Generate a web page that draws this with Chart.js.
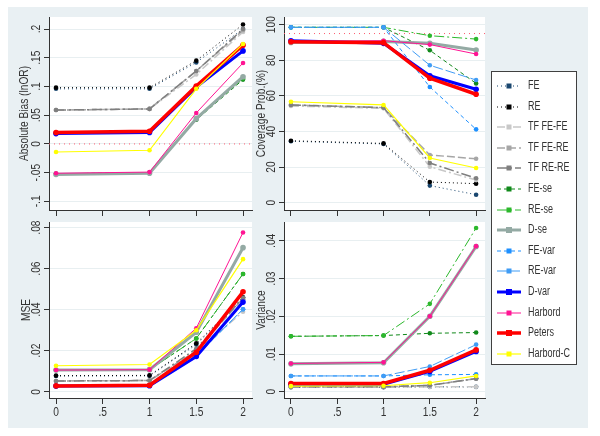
<!DOCTYPE html>
<html>
<head>
<meta charset="utf-8">
<script src="https://cdn.jsdelivr.net/npm/chart.js@4.4.1/dist/chart.umd.min.js"></script>
<style>
  body { margin: 0; background: #fff; width: 600px; height: 436px; position: relative; overflow: hidden; }
  #bg { position: absolute; left: 8px; top: 7px; width: 580px; height: 421px; background: #e9f0f3; }
  canvas { position: absolute; }
  #legend { position: absolute; left: 491px; top: 71px; width: 84px; height: 292px; background: #fff;
            border: 1px solid #404040; font-family: 'Liberation Sans', Arial, sans-serif;
            font-size: 12px; color: #333; }
  .item { position: absolute; left: 0; height: 14px; }
  .item svg { position: absolute; left: 5px; top: 0; }
  .item span { position: absolute; left: 36px; top: -1px; white-space: nowrap;
               transform: scaleX(0.75); transform-origin: 0 0; }
</style>
</head>
<body>
<div id="bg"></div>
<canvas id="tl" width="252" height="211" style="left:8px;top:7px"></canvas>
<canvas id="tr" width="236" height="211" style="left:254px;top:7px"></canvas>
<canvas id="bl" width="252" height="210" style="left:8px;top:218px"></canvas>
<canvas id="br" width="236" height="210" style="left:254px;top:218px"></canvas>
<div id="legend"></div>
<script>
// x positions and tick labels
const xVals = [0, 1, 1.5, 2];
const xTicks = [0, 0.5, 1, 1.5, 2];
const xLabels = ['0', '.5', '1', '1.5', '2'];

const seriesNames = ['FE', 'RE', 'TF FE-FE', 'TF FE-RE', 'TF RE-RE', 'FE-se', 'RE-se', 'D-se',
                     'FE-var', 'RE-var', 'D-var', 'Harbord', 'Peters', 'Harbord-C'];

// one row per series, same order as seriesNames
const bias = [
  [0.096, 0.096, 0.142, 0.200],
  [0.098, 0.098, 0.145, 0.208],
  [0.059, 0.061, 0.121, 0.195],
  [0.059, 0.061, 0.127, 0.198],
  [0.059, 0.061, 0.127, 0.200],
  [-0.052, -0.050, 0.042, 0.112],
  [-0.052, -0.050, 0.044, 0.114],
  [-0.053, -0.051, 0.044, 0.117],
  [0.018, 0.020, 0.099, 0.162],
  [0.018, 0.020, 0.099, 0.162],
  [0.018, 0.020, 0.099, 0.162],
  [-0.051, -0.049, 0.054, 0.141],
  [0.020, 0.022, 0.101, 0.172],
  [-0.014, -0.011, 0.096, 0.174]
];
const coverage = [
  [34.5, 33.0, 9.6, 4.5],
  [34.8, 33.3, 11.6, 10.7],
  [54.3, 53.0, 20.2, 12.7],
  [54.9, 53.4, 26.8, 24.7],
  [54.9, 53.4, 22.3, 13.7],
  [98.5, 98.5, 85.6, 67.0],
  [98.5, 98.5, 93.8, 91.9],
  [90.0, 90.6, 89.5, 85.8],
  [98.5, 98.5, 65.0, 41.2],
  [98.5, 98.5, 77.2, 68.9],
  [91.0, 89.5, 71.3, 63.7],
  [90.5, 91.0, 88.8, 83.5],
  [90.4, 89.9, 69.9, 60.9],
  [56.7, 54.9, 25.1, 19.5]
];
const mse = [
  [0.0077, 0.0078, 0.0230, 0.0450],
  [0.0079, 0.0080, 0.0236, 0.0460],
  [0.0053, 0.0055, 0.0195, 0.0390],
  [0.0053, 0.0055, 0.0200, 0.0455],
  [0.0053, 0.0055, 0.0210, 0.0458],
  [0.0106, 0.0108, 0.0260, 0.0574],
  [0.0106, 0.0108, 0.0260, 0.0574],
  [0.0106, 0.0108, 0.0290, 0.0702],
  [0.0029, 0.0031, 0.0175, 0.0402],
  [0.0029, 0.0031, 0.0175, 0.0402],
  [0.0028, 0.0030, 0.0172, 0.0437],
  [0.0106, 0.0108, 0.0310, 0.0776],
  [0.0029, 0.0032, 0.0193, 0.0487],
  [0.0127, 0.0133, 0.0300, 0.0646]
];
const variance = [
  [0.0012, 0.0012, 0.0013, 0.0013],
  [0.0013, 0.0013, 0.0017, 0.0035],
  [0.0012, 0.0012, 0.0013, 0.0013],
  [0.0013, 0.0013, 0.0017, 0.0035],
  [0.0013, 0.0013, 0.0017, 0.0035],
  [0.0147, 0.0149, 0.0155, 0.0157],
  [0.0147, 0.0149, 0.0233, 0.0434],
  [0.0074, 0.0077, 0.0200, 0.0385],
  [0.0042, 0.0042, 0.0045, 0.0046],
  [0.0042, 0.0042, 0.0067, 0.0125],
  [0.0020, 0.0020, 0.0054, 0.0107],
  [0.0075, 0.0078, 0.0200, 0.0386],
  [0.0022, 0.0022, 0.0057, 0.0111],
  [0.0015, 0.0016, 0.0024, 0.0042]
];

// y ticks per panel
const biasTicks = [-0.1, -0.05, 0, 0.05, 0.1, 0.15, 0.2];
const biasLabels = ['-.1', '-.05', '0', '.05', '.1', '.15', '.2'];
const covTicks = [0, 20, 40, 60, 80, 100];
const covLabels = ['0', '20', '40', '60', '80', '100'];
const mseTicks = [0, 0.02, 0.04, 0.06, 0.08];
const mseLabels = ['0', '.02', '.04', '.06', '.08'];
const varTicks = [0, 0.01, 0.02, 0.03, 0.04];
const varLabels = ['0', '.01', '.02', '.03', '.04'];

const FONT = "'Liberation Sans', Arial, sans-serif";
const INK = '#333';
const SQUEEZE = 0.85;   // Stata's text is a little condensed

const styles = [
  { color: '#1a476f', width: 1, dash: [1, 3] },
  { color: '#000000', width: 1, dash: [1, 3] },
  { color: '#c8c8c8', width: 1.5, dash: [8, 3, 2, 3] },
  { color: '#a6a6a6', width: 1.5, dash: [8, 3] },
  { color: '#7f7f7f', width: 1.5, dash: [10, 3, 2, 3] },
  { color: '#11891b', width: 1, dash: [4, 3] },
  { color: '#2cb82c', width: 1, dash: [10, 3, 2, 3] },
  { color: '#94aaa4', width: 3, dash: [] },
  { color: '#1e90ff', width: 1, dash: [4, 3] },
  { color: '#3f9cf5', width: 1, dash: [10, 3] },
  { color: '#0000ff', width: 3, dash: [] },
  { color: '#ff1493', width: 1, dash: [] },
  { color: '#ff0000', width: 3.5, dash: [] },
  { color: '#ffff00', width: 1.2, dash: [] }
];

function squeezedText(ctx, text, x, y, rot) {
  ctx.save();
  ctx.translate(x, y);
  if (rot) ctx.rotate(-Math.PI / 2);
  ctx.scale(SQUEEZE, 1);
  ctx.fillText(text, 0, 0);
  ctx.restore();
}

// white plot region, reference line, rotated y labels, x labels, title
const stataPlugin = {
  id: 'stata',
  beforeDraw(chart) {
    const a = chart.chartArea, ctx = chart.ctx;
    ctx.save();
    ctx.fillStyle = '#fff';
    ctx.fillRect(a.left, a.top, a.right - a.left, a.bottom - a.top);
    ctx.restore();
  },
  beforeDatasetsDraw(chart, args, opts) {
    if (opts.refY === undefined) return;
    const a = chart.chartArea, ctx = chart.ctx;
    const py = chart.scales.y.getPixelForValue(opts.refY);
    ctx.save();
    ctx.strokeStyle = '#ff5a6e';
    ctx.lineWidth = 1;
    ctx.setLineDash([1, 4]);
    ctx.beginPath();
    ctx.moveTo(a.left, py);
    ctx.lineTo(a.right, py);
    ctx.stroke();
    ctx.restore();
  },
  afterDraw(chart, args, opts) {
    const a = chart.chartArea, ctx = chart.ctx, y = chart.scales.y, x = chart.scales.x;
    ctx.save();
    ctx.fillStyle = INK;
    ctx.font = '12px ' + FONT;
    ctx.textAlign = 'center';
    ctx.textBaseline = 'alphabetic';
    opts.ticks.forEach((v, i) => squeezedText(ctx, opts.labels[i], a.left - 9, y.getPixelForValue(v), true));
    if (opts.showX) {
      xTicks.forEach((v, i) => squeezedText(ctx, xLabels[i], x.getPixelForValue(v), a.bottom + 18, false));
    }
    squeezedText(ctx, opts.title, opts.titleX, (a.top + a.bottom) / 2, true);
    ctx.restore();
  }
};

function makePanel(id, rows, yMin, yMax, yTicks, yLabels, title, cfg) {
  const datasets = rows.map((row, i) => ({
    label: seriesNames[i],
    data: xVals.map((x, j) => ({ x: x, y: row[j] })),
    borderColor: styles[i].color,
    backgroundColor: styles[i].color,
    borderWidth: styles[i].width,
    borderDash: styles[i].dash,
    pointRadius: styles[i].width >= 3 ? 2.8 : 2.3,
    pointBorderWidth: 0,
    tension: 0,
    order: rows.length - i
  }));
  return new Chart(document.getElementById(id), {
    type: 'line',
    data: { datasets },
    plugins: [stataPlugin],
    options: {
      responsive: false,
      animation: false,
      events: [],
      layout: { padding: { top: cfg.top, right: cfg.right, left: 0, bottom: 0 } },
      plugins: {
        legend: { display: false },
        tooltip: { enabled: false },
        stata: { ticks: yTicks, labels: yLabels, title: title, titleX: cfg.titleX,
                 refY: cfg.refY, showX: cfg.showX }
      },
      scales: {
        x: {
          type: 'linear', min: -0.075, max: 2.096,
          afterBuildTicks: s => { s.ticks = xTicks.map(v => ({ value: v })); },
          afterFit: s => { s.height = cfg.xh; },
          grid: { drawOnChartArea: false, tickColor: INK, tickLength: 6 },
          border: { color: INK },
          ticks: { display: false }
        },
        y: {
          type: 'linear', min: yMin, max: yMax,
          afterBuildTicks: s => { s.ticks = yTicks.map(v => ({ value: v })); },
          afterFit: s => { s.width = cfg.yw; },
          grid: { color: '#e8eff1', tickColor: INK, tickLength: 5 },
          border: { color: INK },
          ticks: { display: false }
        }
      }
    }
  });
}

makePanel('tl', bias, -0.115, 0.221, biasTicks, biasLabels, 'Absolute Bias (lnOR)',
          { top: 10, right: 8, yw: 41, xh: 8, showX: false, titleX: 20, refY: 0 });
makePanel('tr', coverage, -4.1, 104.3, covTicks, covLabels, 'Coverage Prob.(%)',
          { top: 10, right: 5, yw: 30, xh: 8, showX: false, titleX: 11, refY: 95 });
makePanel('bl', mse, -0.003, 0.0827, mseTicks, mseLabels, 'MSE',
          { top: 2, right: 8, yw: 41, xh: 30, showX: true, titleX: 22 });
makePanel('br', variance, -0.00165, 0.045, varTicks, varLabels, 'Variance',
          { top: 2, right: 5, yw: 30, xh: 30, showX: true, titleX: 11 });

// legend (Stata-style key: line sample with marker, then label)
const legend = document.getElementById('legend');
seriesNames.forEach((name, i) => {
  const st = styles[i];
  const item = document.createElement('div');
  item.className = 'item';
  item.style.top = (7 + i * 20.6) + 'px';
  const r = st.width >= 3 ? 3 : 2.5;
  item.innerHTML =
    '<svg width="24" height="14"><line x1="0" y1="7" x2="24" y2="7" stroke="' + st.color +
    '" stroke-width="' + st.width + '" stroke-dasharray="' + st.dash.join(',') + '"/>' +
    '<rect x="' + (12 - r) + '" y="' + (7 - r) + '" width="' + 2 * r + '" height="' + 2 * r +
    '" fill="' + st.color + '"/></svg><span>' + name + '</span>';
  legend.appendChild(item);
});
</script>
</body>
</html>
